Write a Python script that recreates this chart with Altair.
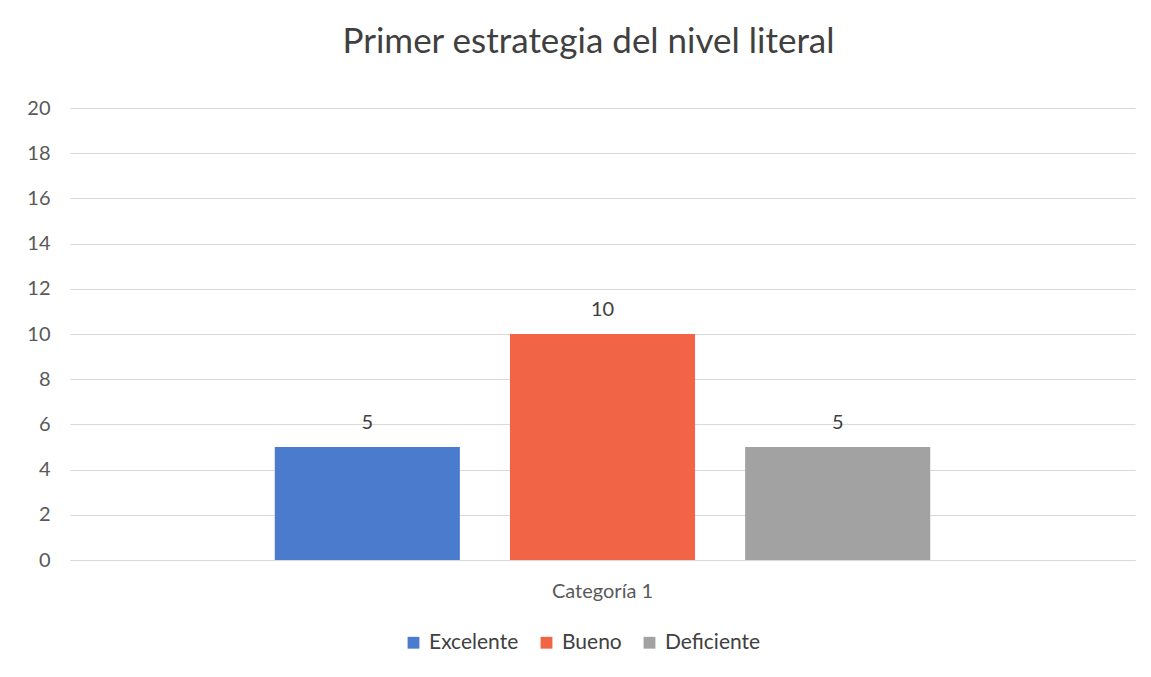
import altair as alt
import pandas as pd

categories = ["Categoría 1"]
series = ["Excelente", "Bueno", "Deficiente"]
values = [5, 10, 5]
colors = ["#4a7bcc", "#f26446", "#a2a2a2"]
y_ticks = list(range(0, 21, 2))

df = pd.DataFrame({
    "Categoria": categories * len(series),
    "Serie": series,
    "Valor": values,
})

FONT = "Lato"
x_scale = alt.Scale(paddingInner=0, paddingOuter=0.255)
xo_scale = alt.Scale(paddingInner=0.213, paddingOuter=0.106)

x_enc = alt.X("Categoria:N", title=None, scale=x_scale,
              axis=alt.Axis(labelAngle=0, labelFontSize=20, labelColor="#595959",
                            labelPadding=21, ticks=False, domain=True,
                            domainColor="#d9d9d9", labelFont=FONT, grid=False))
xo_enc = alt.XOffset("Serie:N", sort=series, scale=xo_scale)
y_enc = alt.Y("Valor:Q", title=None,
              scale=alt.Scale(domain=[0, 20], nice=False),
              axis=alt.Axis(values=y_ticks, labelFontSize=20, labelColor="#595959",
                            labelPadding=20, ticks=False, domain=False,
                            grid=True, gridColor="#d9d9d9", gridWidth=1,
                            labelFont=FONT))

bars = alt.Chart(df).mark_bar().encode(
    x=x_enc,
    xOffset=xo_enc,
    y=y_enc,
    color=alt.Color("Serie:N", sort=series,
                    scale=alt.Scale(domain=series, range=colors),
                    legend=alt.Legend(title=None, orient="none", direction="horizontal",
                                      legendX=333, legendY=524,
                                      symbolType="square", symbolSize=140,
                                      symbolStrokeWidth=0,
                                      labelFontSize=21, labelColor="#404040",
                                      labelFont=FONT, columnPadding=17,
                                      symbolOffset=0, labelOffset=5)),
)

labels = alt.Chart(df).mark_text(
    baseline="middle", dy=-24, fontSize=20, color="#404040", font=FONT
).encode(
    x=alt.X("Categoria:N", scale=x_scale),
    xOffset=alt.XOffset("Serie:N", sort=series, scale=xo_scale),
    y=alt.Y("Valor:Q"),
    text=alt.Text("Valor:Q"),
)

chart = (bars + labels).properties(
    width=1065,
    height=452,
    background="white",
    title=alt.Title("Primer estrategia del nivel literal", fontSize=35,
                    color="#404040", font=FONT, fontWeight="normal",
                    offset=38, dx=-14),
    autosize=alt.AutoSizeParams(type="none"),
    padding={"left": 62, "top": 100, "right": 8, "bottom": 108},
).configure_view(strokeWidth=0, stroke="transparent")

chart.save("out.html", embed_options={"renderer": "svg", "actions": False})
